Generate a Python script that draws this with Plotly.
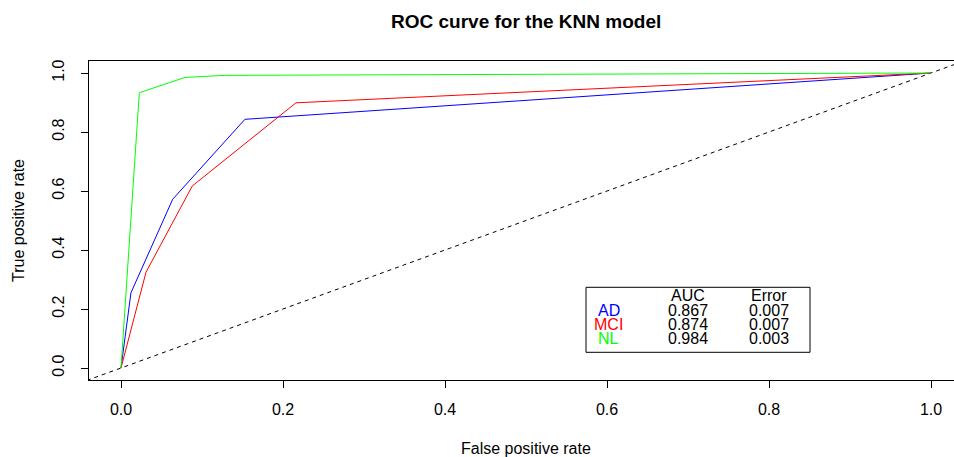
import plotly.graph_objects as go

# ---- data ----
classes = ["AD", "MCI", "NL"]
colors = ["#0000FF", "#FF0000", "#00FF00"]
fpr_AD = [0, 0.0123, 0.0638, 0.153, 1.0]
tpr_AD = [0, 0.255, 0.572, 0.843, 1.0]
fpr_MCI = [0, 0.0309, 0.088, 0.216, 1.0]
tpr_MCI = [0, 0.325, 0.617, 0.899, 1.0]
fpr_NL = [0, 0.0226, 0.079, 0.128, 1.0]
tpr_NL = [0, 0.933, 0.985, 0.992, 1.0]
auc_vals = ["0.867", "0.874", "0.984"]
err_vals = ["0.007", "0.007", "0.003"]
ticks = [0, 0.2, 0.4, 0.6, 0.8, 1.0]
diag = [-0.2, 1.2]

FONT = "Liberation Sans, Arial, Helvetica, sans-serif"
W, H = 954, 457
ML, MR, MT, MB = 89, 0, 61, 77
PW, PH = W - ML - MR, H - MT - MB

def px(x):
    return (x - ML) / PW

def py(y):
    return (H - MB - y) / PH

fig = go.Figure()
fig.add_trace(go.Scatter(x=diag, y=diag, mode="lines",
                         line=dict(color="black", width=1, dash="4px,4px"),
                         showlegend=False, hoverinfo="skip"))
for name, xs, ys, c in zip(classes, [fpr_AD, fpr_MCI, fpr_NL],
                           [tpr_AD, tpr_MCI, tpr_NL], colors):
    fig.add_trace(go.Scatter(x=xs, y=ys, mode="lines", name=name,
                             line=dict(color=c, width=1), showlegend=False))

axis_common = dict(showgrid=False, zeroline=False, showline=True,
                   linecolor="black", linewidth=1, ticks="outside", ticklen=7,
                   tickcolor="black", tickwidth=1, tickvals=ticks,
                   tickformat=".1f", tickfont=dict(family=FONT, size=16, color="black"))

fig.update_layout(
    width=W, height=H,
    margin=dict(l=ML, r=MR, t=MT, b=MB, pad=0),
    plot_bgcolor="white", paper_bgcolor="white",
    xaxis=dict(range=[-(121 - ML) / 810, (W - 121) / 810], mirror=True,
               ticklabelstandoff=8, **axis_common),
    yaxis=dict(range=[-(H - MB - 368) / 295, 1 + (73 - MT) / 295], mirror=False,
               tickangle=-90, ticklabelstandoff=11, **axis_common),
)

# legend-like box
x0, x1 = (586 - 121) / 810, (810 - 121) / 810
y0, y1 = (368 - 352.3) / 295, (368 - 287.3) / 295
fig.add_shape(type="rect", xref="x", yref="y", x0=x0, x1=x1, y0=y0, y1=y1,
              line=dict(color="black", width=1), fillcolor="white", layer="above")

def dx(p):
    return (p - 121) / 810

def dy(p):
    return (368 - p) / 295

LF = 16
rows_y = [310, 324, 338.5]
fig.add_annotation(x=dx(688), y=dy(295), xref="x", yref="y", text="AUC", showarrow=False,
                   font=dict(family=FONT, size=LF, color="black"), xanchor="center", yanchor="middle")
fig.add_annotation(x=dx(769), y=dy(295), xref="x", yref="y", text="Error", showarrow=False,
                   font=dict(family=FONT, size=LF, color="black"), xanchor="center", yanchor="middle")
for name, c, a, e, ry in zip(classes, colors, auc_vals, err_vals, rows_y):
    fig.add_annotation(x=dx(608.5), y=dy(ry), xref="x", yref="y", text=name, showarrow=False,
                       font=dict(family=FONT, size=LF, color=c), xanchor="center", yanchor="middle")
    fig.add_annotation(x=dx(688), y=dy(ry), xref="x", yref="y", text=a, showarrow=False,
                       font=dict(family=FONT, size=LF, color="black"), xanchor="center", yanchor="middle")
    fig.add_annotation(x=dx(769), y=dy(ry), xref="x", yref="y", text=e, showarrow=False,
                       font=dict(family=FONT, size=LF, color="black"), xanchor="center", yanchor="middle")

# titles
fig.add_annotation(x=px(525.5), y=py(22), xref="paper", yref="paper",
                   text="<b>ROC curve for the KNN model</b>", showarrow=False,
                   font=dict(family=FONT, size=19, color="black"), xanchor="center", yanchor="middle")
fig.add_annotation(x=px(526), y=py(449), xref="paper", yref="paper",
                   text="False positive rate", showarrow=False,
                   font=dict(family=FONT, size=16, color="black"), xanchor="center", yanchor="middle")
fig.add_annotation(x=px(18.5), y=py(220.5), xref="paper", yref="paper",
                   text="True positive rate", showarrow=False, textangle=-90,
                   font=dict(family=FONT, size=16, color="black"), xanchor="center", yanchor="middle")

fig.write_html("out.html", config={"displayModeBar": False},
               post_script="document.body.style.margin='0';document.body.style.overflow='hidden';")
